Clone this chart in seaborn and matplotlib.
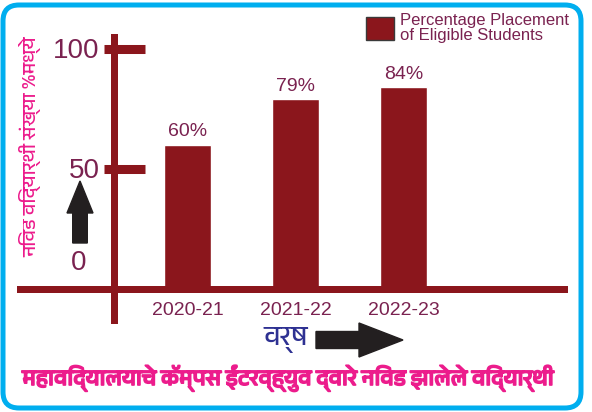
import matplotlib
matplotlib.use('Agg')
import matplotlib.pyplot as plt
from matplotlib import font_manager
from matplotlib import patheffects
from matplotlib.patches import FancyBboxPatch, FancyArrow
import seaborn as sns

# data
years = ['2020-21', '2021-22', '2022-23']
placement = [60, 79, 84]
y_ticks = [50, 100]
y_tick_labels = ['50', '100']
legend_label = 'Percentage Placement\nof Eligible Students'
y_title = 'निवड विद्यार्थी संख्या %मध्ये'
x_title = 'वर्ष'
caption = 'महाविद्यालयाचे कॅम्पस ईंटरव्ह्युव द्वारे निवड झालेले विद्यार्थी'

BAR = '#8B161C'
PLUM = '#7A2250'
PINK = '#EC1C8C'
NAVY = '#2E3192'
BLUE = '#00AEEF'
BLACK = '#231F20'

sns.set_theme(style='white')
plt.rcParams['font.family'] = ['Liberation Sans', 'DejaVu Sans']
deva = sorted({f.name for f in font_manager.fontManager.ttflist if 'Devanagari' in f.name})
hindi_font = deva + ['Noto Sans', 'DejaVu Sans']

W, H = 592, 412
fig = plt.figure(figsize=(W / 100, H / 100), dpi=100)

# pixel canvas for frame, arrows and captions
bg = fig.add_axes([0, 0, 1, 1])
bg.set_xlim(0, W)
bg.set_ylim(H, 0)
bg.axis('off')

bg.add_patch(FancyBboxPatch((3, 5), 578, 403, boxstyle='round,pad=0,rounding_size=16',
                            fill=False, ec=BLUE, lw=3.6))
bg.add_patch(FancyArrow(80, 243, 0, -62, width=14.6, head_width=26, head_length=32,
                        length_includes_head=True, color=BLACK))
bg.add_patch(FancyArrow(316, 340, 87, 0, width=17, head_width=34, head_length=44,
                        length_includes_head=True, color=BLACK))
bg.text(30, 147, y_title, rotation=90, ha='center', va='center', color=PINK,
        fontsize=14, family=hindi_font)
bg.text(286, 340, x_title, ha='center', va='center', color=NAVY, fontsize=20, family=hindi_font)
bg.text(288, 378, caption, ha='center', va='center', color=PINK, fontsize=16,
        fontweight='bold', family=hindi_font,
        path_effects=[patheffects.withStroke(linewidth=1.2, foreground=PINK)])
bg.text(79, 263, '0', ha='center', va='center', color=PLUM, fontsize=20)

# chart axes: one category step = 108 px, one percent = 2.4 px
ax = fig.add_axes([0, 0, 1, 1])
ax.set_facecolor('none')
sns.barplot(x=years, y=placement, color=BAR, saturation=1, width=0.444,
            label=legend_label, ax=ax)
ax.set_xlim(-187.5 / 108, (W - 187.5) / 108)
ax.set_ylim((288.5 - H) / 2.4, 288.5 / 2.4)
ax.bar_label(ax.containers[0], labels=[f'{v}%' for v in placement],
             padding=3, color=PLUM, fontsize=14)

for s in ['top', 'right']:
    ax.spines[s].set_visible(False)
ax.spines['left'].set_position(('data', -0.685))
ax.spines['left'].set_bounds(-13, 105)
ax.spines['bottom'].set_position(('data', 0))
ax.spines['bottom'].set_bounds(-1.551, 3.486)
for s in ['left', 'bottom']:
    ax.spines[s].set_linewidth(5.04)
    ax.spines[s].set_color(BAR)

ax.set_yticks(y_ticks)
ax.set_yticklabels(y_tick_labels)
ax.set_yticks(y_ticks, minor=True)
ax.yaxis.remove_overlapping_locs = False
ax.tick_params(axis='y', which='major', left=True, direction='in', length=22.3, width=6.5,
               color=BAR, labelsize=20, labelcolor=PLUM, pad=10)
ax.tick_params(axis='y', which='minor', left=True, direction='out', length=7.2, width=6.5,
               color=BAR)
ax.tick_params(axis='x', length=0, labelsize=14, labelcolor=PLUM, pad=10)
ax.set_xlabel('')
ax.set_ylabel('')

leg = ax.legend(loc='upper left', bbox_to_anchor=(366 / W, 1 - 13 / H),
                bbox_transform=fig.transFigure, frameon=False, fontsize=12,
                handlelength=1.7, handleheight=1.7, handletextpad=0.35,
                borderpad=0, borderaxespad=0, labelcolor=PLUM)
leg.get_texts()[0].set_linespacing(1.0)
leg.legend_handles[0].set_edgecolor('#3a3a3a')
leg.legend_handles[0].set_linewidth(1)

fig.savefig('out.png', dpi=100)
